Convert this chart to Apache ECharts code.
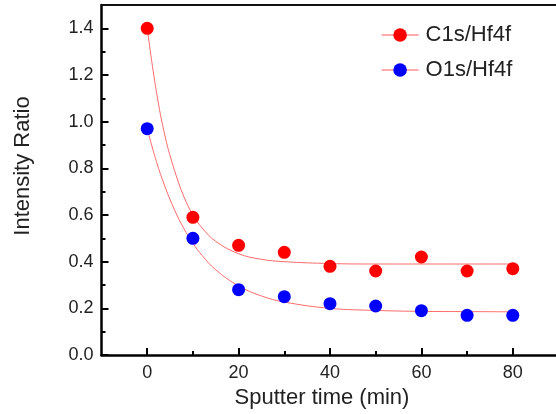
<!DOCTYPE html>
<html><head><meta charset="utf-8">
<script src="https://cdn.jsdelivr.net/npm/echarts@6/dist/echarts.min.js"></script>
<style>html,body{margin:0;padding:0;background:#fff}#c{width:556px;height:414px}</style>
</head><body><div id="c"></div>
<script>
var sputterTime = [0, 10, 20, 30, 40, 50, 60, 70, 80];
var c1sHf4f = [1.40, 0.59, 0.47, 0.44, 0.38, 0.36, 0.42, 0.36, 0.37];
var o1sHf4f = [0.97, 0.50, 0.28, 0.25, 0.22, 0.21, 0.19, 0.17, 0.17];
var fitTime = [0, 2, 4, 6, 8, 10, 12, 15, 20, 25, 30, 40, 50, 60, 70, 80];
var c1sFit = [1.40, 1.13, 0.93, 0.79, 0.68, 0.60, 0.545, 0.487, 0.434, 0.41, 0.40, 0.392, 0.39, 0.39, 0.39, 0.39];
var o1sFit = [0.97, 0.83, 0.716, 0.621, 0.543, 0.479, 0.427, 0.365, 0.296, 0.253, 0.227, 0.20, 0.191, 0.187, 0.186, 0.185];
var xLabels = [0, 20, 40, 60, 80];
var xMinor = [10, 30, 50, 70];
var yLabels = [0, 0.2, 0.4, 0.6, 0.8, 1.0, 1.2, 1.4];
var yMinor = [0.1, 0.3, 0.5, 0.7, 0.9, 1.1, 1.3];

function pairs(xs, ys){ return xs.map(function(x,i){ return [x, ys[i]]; }); }
var font = 'Liberation Sans, Arial, sans-serif';
var chart = echarts.init(document.getElementById('c'));
chart.setOption({
  animation: false,
  grid: { left: 101.5, top: 5, height: 350, width: 457, containLabel: false, outerBoundsMode: 'none', show: false },
  legend: {
    orient: 'vertical', left: 381, top: 24, padding: 0, itemWidth: 37, itemHeight: 17, itemGap: 13,
    textStyle: { fontFamily: font, fontSize: 22, color: '#222', padding: [0,0,0,2] },
    lineStyle: { color: '#ff5a5a', width: 1.2, opacity: 1 },
    data: ['C1s/Hf4f', 'O1s/Hf4f']
  },
  xAxis: [{
    type: 'value', min: -10, max: 90, interval: 10, position: 'bottom',
    name: 'Sputter time (min)', nameLocation: 'middle', nameGap: 30,
    nameTextStyle: { fontFamily: font, fontSize: 22, color: '#222', padding: [0, 16, 0, 0] },
    axisLine: { show: true, onZero: false, lineStyle: { color: '#000', width: 2.5 } },
    axisTick: { show: true, inside: true, length: 7, customValues: xLabels, lineStyle: { color: '#000', width: 2 } },
    axisLabel: { customValues: xLabels, margin: 9, fontFamily: font, fontSize: 18, color: '#222' },
    splitLine: { show: false }
  }, {
    type: 'value', min: -10, max: 90, interval: 10, position: 'bottom',
    axisLine: { show: false, onZero: false },
    axisTick: { show: true, inside: true, length: 4, customValues: xMinor, lineStyle: { color: '#000', width: 2 } },
    axisLabel: { show: false }, splitLine: { show: false }
  }, {
    type: 'value', min: -10, max: 90, interval: 10, position: 'top',
    axisLine: { show: true, onZero: false, lineStyle: { color: '#111', width: 2 } },
    axisTick: { show: false }, axisLabel: { show: false }, splitLine: { show: false }
  }],
  yAxis: [{
    type: 'value', min: 0, max: 1.5, interval: 0.2, position: 'left',
    name: 'Intensity Ratio', nameLocation: 'middle', nameGap: 68,
    nameTextStyle: { fontFamily: font, fontSize: 22, color: '#222', padding: [0, 0, 0, 28] },
    axisLine: { show: true, onZero: false, lineStyle: { color: '#000', width: 2.5 } },
    axisTick: { show: true, inside: true, length: 7, customValues: yLabels, lineStyle: { color: '#000', width: 2 } },
    axisLabel: { customValues: yLabels, margin: 8, fontFamily: font, fontSize: 18, color: '#222',
      formatter: function(v){ return v.toFixed(1); } },
    splitLine: { show: false }
  }, {
    type: 'value', min: 0, max: 1.5, interval: 0.1, position: 'left',
    axisLine: { show: false, onZero: false },
    axisTick: { show: true, inside: true, length: 4, customValues: yMinor, lineStyle: { color: '#000', width: 2 } },
    axisLabel: { show: false }, splitLine: { show: false }
  }],
  series: [
    { name: 'C1s fit', type: 'line', data: pairs(fitTime, c1sFit), smooth: 0.4, showSymbol: false, symbol: 'none',
      lineStyle: { color: '#ff6a6a', width: 1 }, z: 2 },
    { name: 'O1s fit', type: 'line', data: pairs(fitTime, o1sFit), smooth: 0.4, showSymbol: false, symbol: 'none',
      lineStyle: { color: '#ff6a6a', width: 1 }, z: 2 },
    { name: 'C1s/Hf4f', type: 'line', data: pairs(sputterTime, c1sHf4f), symbol: 'circle', symbolSize: 13,
      lineStyle: { width: 0, opacity: 0 }, itemStyle: { color: '#ff0000' }, z: 3 },
    { name: 'O1s/Hf4f', type: 'line', data: pairs(sputterTime, o1sHf4f), symbol: 'circle', symbolSize: 13,
      lineStyle: { width: 0, opacity: 0 }, itemStyle: { color: '#0000ff' }, z: 3 }
  ]
});
</script></body></html>
